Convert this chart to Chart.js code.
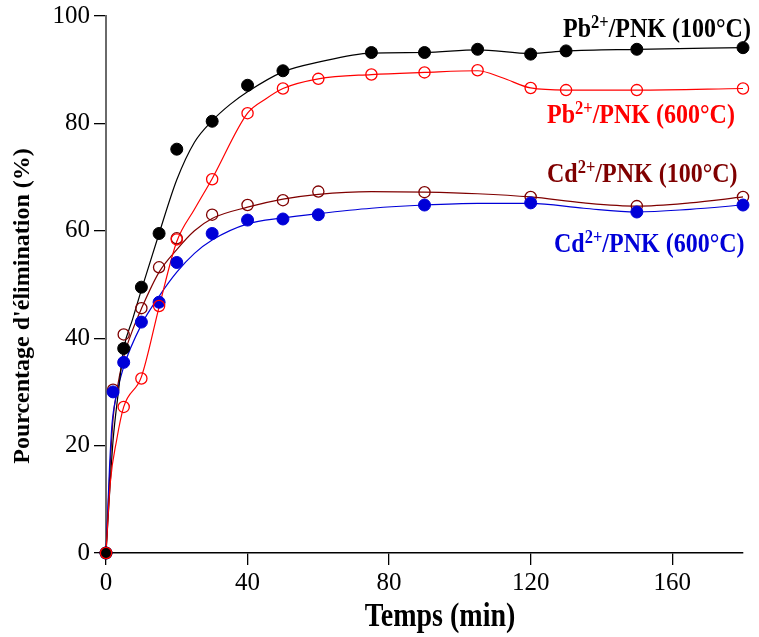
<!DOCTYPE html>
<html>
<head>
<meta charset="utf-8">
<script src="https://cdn.jsdelivr.net/npm/chart.js@4.4.1/dist/chart.umd.min.js"></script>
<style>
  html, body { margin: 0; padding: 0; background: #fff; }
  canvas { display: block; }
</style>
</head>
<body>
<canvas id="grafico" width="759" height="637"></canvas>
<script>
// Points mesurés (temps en min, pourcentage d'élimination)
const tempsPb100 = [0, 5, 10, 15, 20, 30, 40, 50, 75, 90, 105, 120, 130, 150, 180];
const pb100 = [0, 38.1, 49.5, 59.5, 75.2, 80.4, 87.1, 89.8, 93.2, 93.2, 93.8, 92.9, 93.5, 93.8, 94.1];
const tempsPb600 = [0, 5, 10, 15, 20, 30, 40, 50, 60, 75, 90, 105, 120, 130, 150, 180];
const pb600 = [0, 27.2, 32.5, 46.0, 58.4, 69.6, 81.9, 86.5, 88.3, 89.1, 89.5, 89.9, 86.6, 86.2, 86.2, 86.5];
const tempsCd = [0, 2, 5, 10, 15, 20, 30, 40, 50, 60, 90, 120, 150, 180];
const cd100 = [0, 30.4, 40.7, 45.6, 53.2, 58.6, 63.0, 64.8, 65.7, 67.3, 67.2, 66.3, 64.6, 66.3];
const cd600 = [0, 30.0, 35.5, 43.0, 46.7, 54.1, 59.5, 62.0, 62.2, 63.0, 64.8, 65.2, 63.5, 64.8];

// Courbes d'ajustement
const tCourbePb100 = [0, 1, 2, 3.5, 5, 7.5, 10, 15, 20, 25, 30, 35, 40, 50, 60, 75, 90, 105, 120, 130, 150, 180];
const courbePb100 = [0, 11, 21, 30, 38, 43.5, 49, 59.5, 69.5, 76.5, 80.5, 83.5, 85.9, 89.6, 91.4, 93.1, 93.2, 93.7, 93.0, 93.5, 93.8, 94.1];
const tCourbePb600 = [0, 1.2, 3, 5, 10, 15, 20, 25, 30, 40, 45, 50, 60, 75, 90, 105, 112, 120, 130, 150, 180];
const courbePb600 = [0, 13, 21, 27.2, 32.8, 45.8, 58, 64.0, 69.7, 81.9, 84.5, 86.5, 88.3, 89.1, 89.5, 89.8, 88.5, 86.6, 86.2, 86.2, 86.5];
const tCourbeCd100 = [0, 1, 2, 3, 5, 7.5, 10, 15, 20, 25, 30, 40, 50, 60, 75, 90, 105, 120, 135, 150, 165, 180];
const courbeCd100 = [0, 14, 25, 30, 36.5, 41.5, 45.5, 52.3, 56.5, 60, 62.3, 64.4, 65.9, 66.8, 67.3, 67.2, 66.9, 66.3, 65.2, 64.6, 65.2, 66.3];
const tCourbeCd600 = [0, 1, 1.7, 3, 5, 10, 15, 20, 25, 30, 40, 50, 60, 75, 90, 105, 120, 135, 150, 165, 180];
const courbeCd600 = [0, 16, 24, 29.5, 34.7, 42.5, 47.8, 52.3, 55.8, 58.3, 61.3, 62.4, 63.2, 64.2, 64.8, 65.1, 65.1, 64.2, 63.5, 64.0, 64.8];

const ticksX = [0, 40, 80, 120, 160];
const ticksY = [0, 20, 40, 60, 80, 100];

const noir = '#000000';
const rouge = '#ff0000';
const bordeaux = '#7f0000';
const bleu = '#0000d8';
const police = '"Liberation Serif", "Times New Roman", serif';

function points(xs, ys) {
  return xs.map((x, i) => ({ x: x, y: ys[i] }));
}

function serieMesures(label, xs, ys, couleur, plein, ordre) {
  return {
    label: label,
    data: points(xs, ys),
    showLine: false,
    pointRadius: plein ? 6 : 5.6,
    pointBorderWidth: plein ? 1 : 1.3,
    pointBackgroundColor: plein ? couleur : 'rgba(0,0,0,0)',
    pointBorderColor: couleur,
    order: ordre,
    clip: false
  };
}

function serieCourbe(xs, ys, couleur, ordre) {
  return {
    data: points(xs, ys),
    showLine: true,
    pointRadius: 0,
    borderColor: couleur,
    borderWidth: 1.2,
    cubicInterpolationMode: 'monotone',
    fill: false,
    order: ordre,
    clip: false
  };
}

// étiquettes des séries dans le graphique
const legendes = [
  { ion: 'Pb', temp: '100', couleur: noir, x: 563, y: 37 },
  { ion: 'Pb', temp: '600', couleur: rouge, x: 547, y: 123 },
  { ion: 'Cd', temp: '100', couleur: bordeaux, x: 547, y: 182 },
  { ion: 'Cd', temp: '600', couleur: bleu, x: 554, y: 252 }
];

const textes = {
  id: 'textes',
  afterDraw(chart) {
    const c = chart.ctx;

    // titre de l'axe y
    c.save();
    c.fillStyle = noir;
    c.font = 'bold 24px ' + police;
    c.textAlign = 'center';
    c.textBaseline = 'middle';
    c.translate(23, 306);
    c.rotate(-Math.PI / 2);
    c.fillText("Pourcentage d'élimination (%)", 0, 0);
    c.restore();

    // titre de l'axe x
    c.save();
    c.fillStyle = noir;
    c.translate(440, 626);
    c.scale(1, 1.18);
    c.font = 'bold 28px ' + police;
    c.textAlign = 'center';
    c.textBaseline = 'alphabetic';
    c.fillText('Temps (min)', 0, 0);
    c.restore();

    legendes.forEach(l => {
      c.save();
      c.translate(l.x, l.y);
      c.scale(1, 1.18);
      c.fillStyle = l.couleur;
      c.textAlign = 'left';
      c.textBaseline = 'alphabetic';
      c.font = 'bold 24px ' + police;
      c.fillText(l.ion, 0, 0);
      let w = c.measureText(l.ion).width;
      c.font = 'bold 16.5px ' + police;
      c.fillText('2+', w, -8);
      w += c.measureText('2+').width;
      c.font = 'bold 24px ' + police;
      c.fillText('/PNK (' + l.temp + '°C)', w, 0);
      c.restore();
    });
  }
};

const ctx = document.getElementById('grafico').getContext('2d');

new Chart(ctx, {
  type: 'scatter',
  data: {
    datasets: [
      serieMesures('Pb2+/PNK (100°C)', tempsPb100, pb100, noir, true, 2),
      serieMesures('Pb2+/PNK (600°C)', tempsPb600, pb600, rouge, false, 1),
      serieMesures('Cd2+/PNK (100°C)', tempsCd, cd100, bordeaux, false, 4),
      serieMesures('Cd2+/PNK (600°C)', tempsCd, cd600, bleu, true, 3),
      serieCourbe(tCourbePb100, courbePb100, noir, 6),
      serieCourbe(tCourbePb600, courbePb600, rouge, 5),
      serieCourbe(tCourbeCd100, courbeCd100, bordeaux, 8),
      serieCourbe(tCourbeCd600, courbeCd600, bleu, 7)
    ]
  },
  options: {
    responsive: false,
    animation: false,
    devicePixelRatio: 1,
    layout: { padding: { top: 16, right: 16, left: 0, bottom: 0 } },
    plugins: {
      legend: { display: false },
      tooltip: { enabled: false }
    },
    scales: {
      x: {
        type: 'linear',
        position: 'bottom',
        min: 0,
        max: 180,
        afterBuildTicks: scale => { scale.ticks = ticksX.map(v => ({ value: v })); },
        afterFit: scale => { scale.height = 84; scale.paddingLeft = 0; scale.paddingRight = 0; },
        ticks: {
          color: noir,
          font: { family: police, size: 25 },
          padding: 3,
          maxRotation: 0
        },
        grid: { drawOnChartArea: false, drawTicks: true, tickLength: 12, color: noir, lineWidth: 1.3 },
        border: { display: true, color: noir, width: 1.5 }
      },
      y: {
        type: 'linear',
        min: 0,
        max: 100,
        afterBuildTicks: scale => { scale.ticks = ticksY.map(v => ({ value: v })); },
        afterFit: scale => { scale.width = 106; scale.paddingTop = 0; scale.paddingBottom = 0; },
        ticks: {
          color: noir,
          font: { family: police, size: 25 },
          padding: 4
        },
        grid: { drawOnChartArea: false, drawTicks: true, tickLength: 12, color: noir, lineWidth: 1.3 },
        border: { display: true, color: '#6a6a6a', width: 2 }
      }
    }
  },
  plugins: [textes]
});
</script>
</body>
</html>
